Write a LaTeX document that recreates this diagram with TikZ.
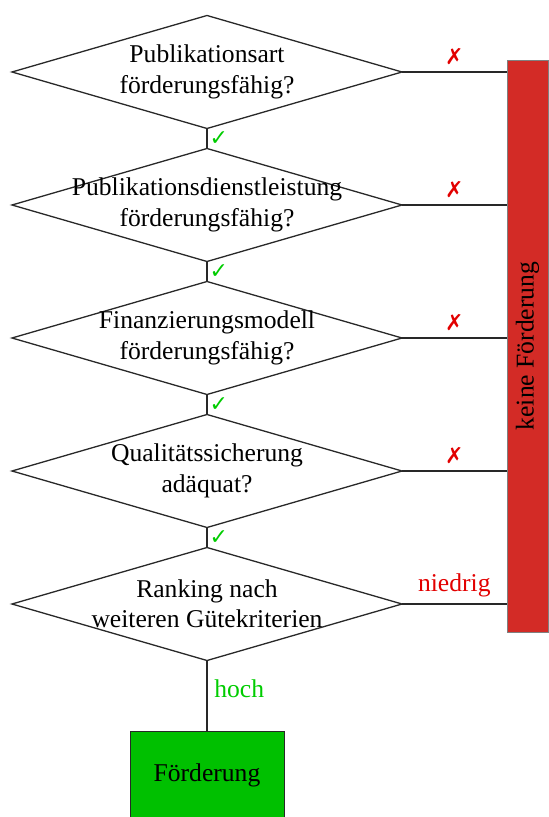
\documentclass[tikz,border=0pt]{standalone}
\usepackage{fontspec}
\setmainfont{Liberation Serif}
\newfontfamily\symfont{DejaVu Sans}
\usepackage{tikz}
\usetikzlibrary{shapes.geometric}
\usetikzlibrary{positioning}
\definecolor{linegray}{RGB}{40,40,40}
\definecolor{barred}{RGB}{211,43,38}
\definecolor{fundgreen}{RGB}{0,192,0}
\definecolor{markred}{RGB}{226,0,0}
\definecolor{markgreen}{RGB}{0,204,0}

\begin{document}
\begin{tikzpicture}[x=0.5pt, y=-0.5pt,
    every node/.style={font=\fontsize{12.8}{15.2}\selectfont},
    decision/.style={diamond, draw=linegray, line width=0.65pt, fill=white,
        minimum width=195pt, minimum height=56.5pt, inner sep=0pt, outer sep=0pt},
    qtext/.style={align=center, inner sep=0pt},
    link/.style={draw=linegray, line width=0.65pt},
    nomark/.style={text=markred, font=\symfont\fontsize{11}{13}\selectfont},
    yesmark/.style={text=markgreen, font=\symfont\fontsize{11}{13}\selectfont, inner sep=1pt},
    nofundbox/.style={draw=gray, fill=barred, minimum width=20.5pt, minimum height=286pt, inner sep=0pt},
    fundbox/.style={draw=linegray, fill=fundgreen, minimum width=77pt, minimum height=44pt, outer sep=0pt}]
    % Frame
    \useasboundingbox (0,0) rectangle (548,817);
    % Decisions
    \node [decision] (d1) at (207,72) {};
    \node [decision, below=10pt of d1] (d2) {};
    \node [decision, below=10pt of d2] (d3) {};
    \node [decision, below=10pt of d3] (d4) {};
    \node [decision, below=10pt of d4] (d5) {};
    \node [qtext] (q1) at (d1) {Publikationsart\\förderungsfähig?};
    \node [qtext] (q2) at (d2) {Publikationsdienstleistung\\förderungsfähig?};
    \node [qtext] (q3) at (d3) {Finanzierungsmodell\\förderungsfähig?};
    \node [qtext] (q4) at (d4) {Qualitätssicherung\\adäquat?};
    \node [qtext] (q5) at (d5) {Ranking nach\\weiteren Gütekriterien};
    % Results
    \node [nofundbox] (nofund) at (527.5,346) {\rotatebox{90}{keine Förderung}};
    \node [fundbox, below=35.5pt of d5] (fund) {Förderung};
    % Connections
    \foreach \i in {1,...,4}
    {
    \draw [link] (d\i.east) -- (d\i.east -| nofund.west)
        node [midway, above, nomark] {✗};
    }
    \foreach \i/\j in {1/2,2/3,3/4,4/5}
    {
    \draw [link] (d\i.south) -- (d\j.north)
        node [midway, right, yesmark] {✓};
    }
    \draw [link] (d5.east) -- (d5.east -| nofund.west)
        node [midway, above, text=markred] {niedrig};
    \draw [link] (d5.south) -- (fund.north)
        node [pos=0.4, right, text=markgreen] {hoch};
\end{tikzpicture}
\end{document}
